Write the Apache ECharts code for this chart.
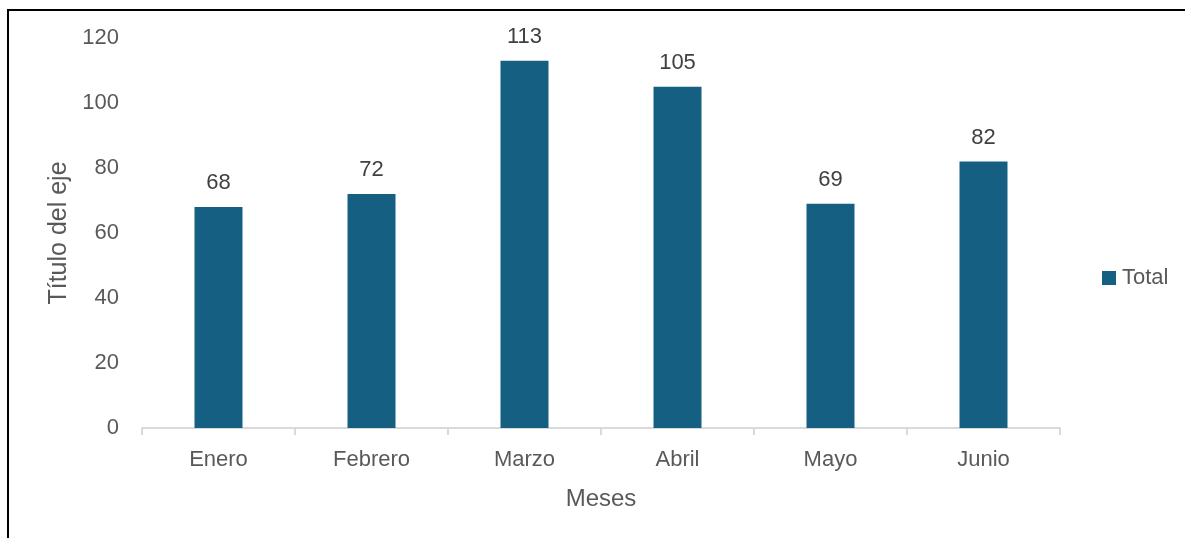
<!DOCTYPE html>
<html>
<head>
<meta charset="utf-8">
<script src="https://cdn.jsdelivr.net/npm/echarts@6/dist/echarts.min.js"></script>
<style>
  html, body { margin: 0; padding: 0; background: #fff; }
  #chart { width: 1185px; height: 538px; }
</style>
</head>
<body>
<div id="chart"></div>
<script>
// Monthly totals
const months = ['Enero', 'Febrero', 'Marzo', 'Abril', 'Mayo', 'Junio'];
const totals = [68, 72, 113, 105, 69, 82];
const seriesName = 'Total';
const xAxisTitle = 'Meses';
const yAxisTitle = 'Título del eje';

const font = '"Liberation Sans", Arial, sans-serif';
const chart = echarts.init(document.getElementById('chart'), null, { renderer: 'canvas' });

chart.setOption({
  animation: false,
  textStyle: { fontFamily: font },
  grid: { left: 142, right: 125, top: 38, bottom: 110, containLabel: false },
  // chart frame (top and left edges)
  graphic: [
    { type: 'line', shape: { x1: 7, y1: 10, x2: 1185, y2: 10 }, style: { stroke: '#000', lineWidth: 2 } },
    { type: 'line', shape: { x1: 8, y1: 9, x2: 8, y2: 538 }, style: { stroke: '#000', lineWidth: 2 } }
  ],
  legend: {
    data: [seriesName],
    orient: 'vertical',
    left: 1102,
    top: 267,
    itemWidth: 14,
    itemHeight: 14,
    itemGap: 4,
    padding: 0,
    textStyle: { fontFamily: font, fontSize: 22, color: '#595959', padding: [0, 0, 0, 1] },
    icon: 'rect'
  },
  xAxis: {
    type: 'category',
    data: months,
    name: xAxisTitle,
    nameLocation: 'middle',
    nameGap: 59,
    nameTextStyle: { fontFamily: font, fontSize: 24, color: '#595959' },
    axisLine: { lineStyle: { color: '#d9d9d9', width: 2 } },
    axisTick: { show: true, alignWithLabel: false, length: 7, lineStyle: { color: '#d9d9d9', width: 2 } },
    axisLabel: { fontFamily: font, fontSize: 22, color: '#595959', margin: 21 }
  },
  yAxis: {
    type: 'value',
    min: 0,
    max: 120,
    interval: 20,
    name: yAxisTitle,
    nameLocation: 'middle',
    nameGap: 70,
    nameRotate: 90,
    nameTextStyle: { fontFamily: font, fontSize: 25, color: '#595959' },
    axisLine: { show: false },
    axisTick: { show: false },
    splitLine: { show: false },
    axisLabel: { fontFamily: font, fontSize: 22, color: '#595959', margin: 23 }
  },
  series: [{
    name: seriesName,
    type: 'bar',
    data: totals,
    barWidth: 48,
    itemStyle: { color: '#156082' },
    label: {
      show: true,
      position: 'top',
      distance: 13,
      fontFamily: font,
      fontSize: 22,
      color: '#404040'
    }
  }]
});
</script>
</body>
</html>
